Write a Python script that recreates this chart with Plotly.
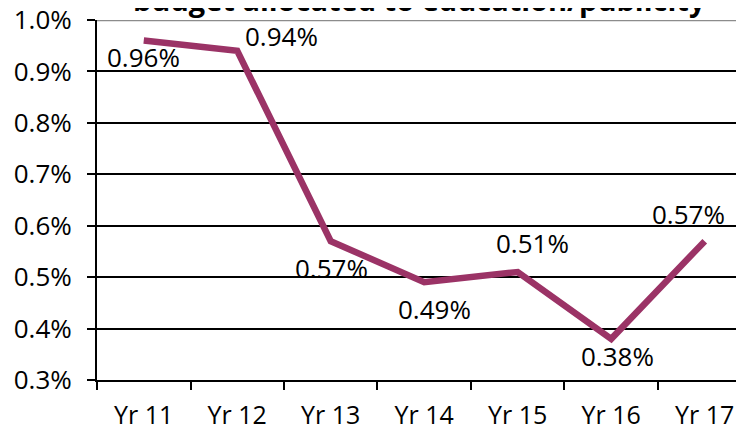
import plotly.graph_objects as go

categories = ["Yr 11", "Yr 12", "Yr 13", "Yr 14", "Yr 15", "Yr 16", "Yr 17"]
values = [0.0096, 0.0094, 0.0057, 0.0049, 0.0051, 0.0038, 0.0057]
labels = ["0.96%", "0.94%", "0.57%", "0.49%", "0.51%", "0.38%", "0.57%"]
ytick_vals = [0.003, 0.004, 0.005, 0.006, 0.007, 0.008, 0.009, 0.010]
ytick_text = ["0.3%", "0.4%", "0.5%", "0.6%", "0.7%", "0.8%", "0.9%", "1.0%"]
title_text = "budget allocated to education/publicity"

# label offsets (pixels) relative to each point
label_dx = [0, 44, 1, 10, 15, 6, -16]
label_dy = [-16, 15, -27, -27, 29, -17, 27]

FONT = "Open Sans"
line_color = "#9B3366"

fig = go.Figure()
fig.add_trace(go.Scatter(
    x=categories, y=values, mode="lines",
    line=dict(color=line_color, width=6.5),
    hoverinfo="skip", showlegend=False,
))

for c, v, t, dx, dy in zip(categories, values, labels, label_dx, label_dy):
    fig.add_annotation(x=c, y=v, text=t, showarrow=False, xshift=dx, yshift=dy,
                       font=dict(family=FONT, size=26, color="#000000"))

fig.add_annotation(x=0.5, y=1.0, xref="paper", yref="paper", yshift=-1, xshift=-1,
                   text=f"<b>{title_text}</b>", showarrow=False, yanchor="bottom",
                   xanchor="center", font=dict(family=FONT, size=29, color="#000000"))

fig.add_shape(type="line", xref="paper", yref="y", x0=0, x1=1, y0=0.010, y1=0.010,
              line=dict(color="#8c8c8c", width=2.5))

fig.update_layout(
    width=736, height=420,
    margin=dict(l=89, r=0, t=12, b=48, autoexpand=False),
    paper_bgcolor="white", plot_bgcolor="white",
    font=dict(family=FONT, size=25, color="#000000"),
    xaxis=dict(
        type="category", range=[-0.5, 6.42],
        showgrid=False, showline=True, linecolor="#000000", linewidth=2,
        ticks="outside", tickson="boundaries", ticklen=8, tickwidth=2, tickcolor="#000000",
        tickfont=dict(family=FONT, size=25), ticklabelstandoff=12,
        ticklabeloverflow="allow",
    ),
    yaxis=dict(
        range=[0.003, 0.010], tickvals=ytick_vals, ticktext=ytick_text,
        showgrid=True, gridcolor="#000000", gridwidth=1.5,
        showline=True, linecolor="#000000", linewidth=2,
        ticks="outside", ticklen=8, tickwidth=2, tickcolor="#000000",
        tickfont=dict(family=FONT, size=26), ticklabelstandoff=10,
        ticklabeloverflow="allow",
        zeroline=False,
    ),
)

fig.write_html("out.html")
